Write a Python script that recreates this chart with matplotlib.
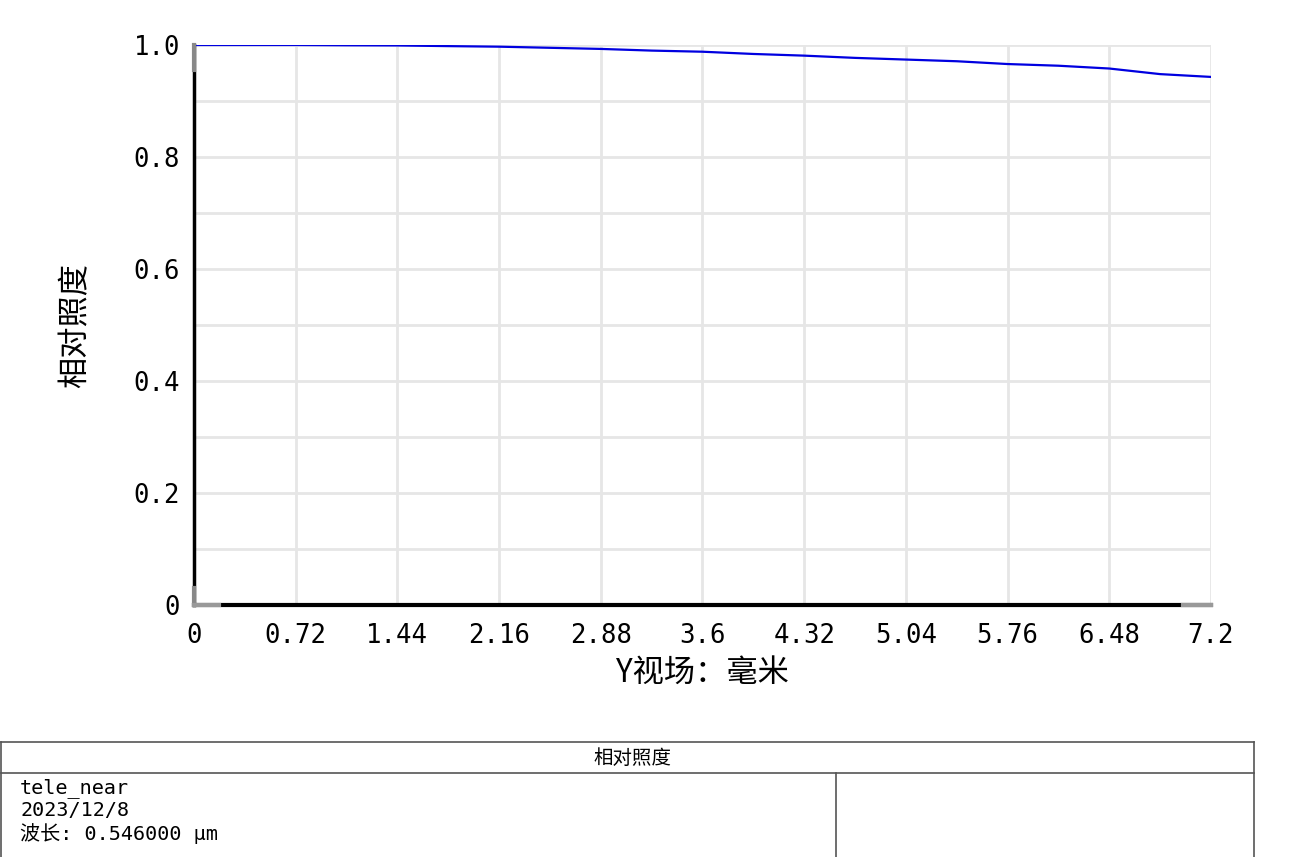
import matplotlib

matplotlib.use("Agg")
import matplotlib.pyplot as plt
from matplotlib.lines import Line2D

plt.rcParams["font.family"] = ["DejaVu Sans Mono", "Noto Sans CJK SC"]

# relative illumination vs Y field (mm)
field_mm = [0.0, 0.36, 0.72, 1.08, 1.44, 1.80, 2.16, 2.52, 2.88, 3.24, 3.60,
            3.96, 4.32, 4.68, 5.04, 5.40, 5.76, 6.12, 6.48, 6.84, 7.20]
rel_illum = [1.000, 1.000, 1.000, 0.9995, 0.9992, 0.998, 0.997, 0.995, 0.993, 0.990, 0.988,
             0.984, 0.981, 0.977, 0.974, 0.971, 0.966, 0.963, 0.958, 0.948, 0.943]
xticks = [0, 0.72, 1.44, 2.16, 2.88, 3.6, 4.32, 5.04, 5.76, 6.48, 7.2]
xtick_labels = ["0", "0.72", "1.44", "2.16", "2.88", "3.6", "4.32", "5.04", "5.76", "6.48", "7.2"]
yticks = [0, 0.2, 0.4, 0.6, 0.8, 1.0]
ytick_labels = ["0", "0.2", "0.4", "0.6", "0.8", "1.0"]
ygrid = [i / 10 for i in range(11)]

CJK = ["Noto Sans CJK SC", "DejaVu Sans"]
GRID = "#e6e6e6"

fig = plt.figure(figsize=(13.1, 8.57), dpi=100)
ax = fig.add_axes([194 / 1310, 1 - 605 / 857, (1211 - 194) / 1310, (605 - 45) / 857])
ax.set_xlim(0, 7.2)
ax.set_ylim(0, 1.0)

for gx in xticks:
    ax.axvline(gx, color=GRID, lw=2, zorder=0)
for gy in ygrid:
    ax.axhline(gy, color=GRID, lw=2, zorder=0)

ax.plot(field_mm, rel_illum, color="#0000e0", lw=1.6, zorder=3)

ax.set_xticks(xticks)
ax.set_xticklabels(xtick_labels)
ax.set_yticks(yticks)
ax.set_yticklabels(ytick_labels)
ax.tick_params(length=0, labelsize=18.5)
ax.tick_params(axis="x", pad=13)
ax.tick_params(axis="y", pad=10)

for s in ("top", "right"):
    ax.spines[s].set_visible(False)
ax.spines["left"].set_linewidth(2.5)
ax.spines["bottom"].set_linewidth(3)

# grey end caps on the axis lines
ax.add_line(Line2D([0, 0], [0.955, 1.0], color="#888888", lw=3, clip_on=False, zorder=4))
ax.add_line(Line2D([0, 0], [0.0, 0.03], color="#888888", lw=3, clip_on=False, zorder=4))
ax.add_line(Line2D([0, 0.18], [0, 0], color="#999999", lw=3, clip_on=False, zorder=4))
ax.add_line(Line2D([7.0, 7.2], [0, 0], color="#999999", lw=3, clip_on=False, zorder=4))

ax.set_xlabel("Y视场：毫米", fontsize=22.5, family=CJK)
ax.set_ylabel("相对照度", fontsize=22.5, family=CJK)
ax.xaxis.set_label_coords(0.5, -0.093)
ax.yaxis.set_label_coords(-0.101, 0.5)

# info table at the bottom
W, H = 1310, 857
def fx(px): return px / W
def fy(py): return 1 - py / H

lc = "#555555"
fig.add_artist(Line2D([fx(0.5), fx(1254)], [fy(742), fy(742)], color=lc, lw=1.2))
fig.add_artist(Line2D([fx(0.5), fx(1254)], [fy(773), fy(773)], color=lc, lw=1.2))
fig.add_artist(Line2D([fx(0.5), fx(0.5)], [fy(742), fy(857)], color=lc, lw=1.2))
fig.add_artist(Line2D([fx(1254), fx(1254)], [fy(742), fy(857)], color=lc, lw=1.2))
fig.add_artist(Line2D([fx(836), fx(836)], [fy(773), fy(857)], color=lc, lw=1.2))

fig.text(fx(632), fy(758), "相对照度", ha="center", va="center", fontsize=14, family=CJK)
info = ["tele_near", "2023/12/8", "波长: 0.546000 µm"]
for i, line in enumerate(info):
    fig.text(fx(20), fy(788 + i * 23), line, ha="left", va="center", fontsize=14.5,
             family=["DejaVu Sans Mono", "Noto Sans CJK SC"])

fig.savefig("out.png", dpi=100, facecolor="white")
